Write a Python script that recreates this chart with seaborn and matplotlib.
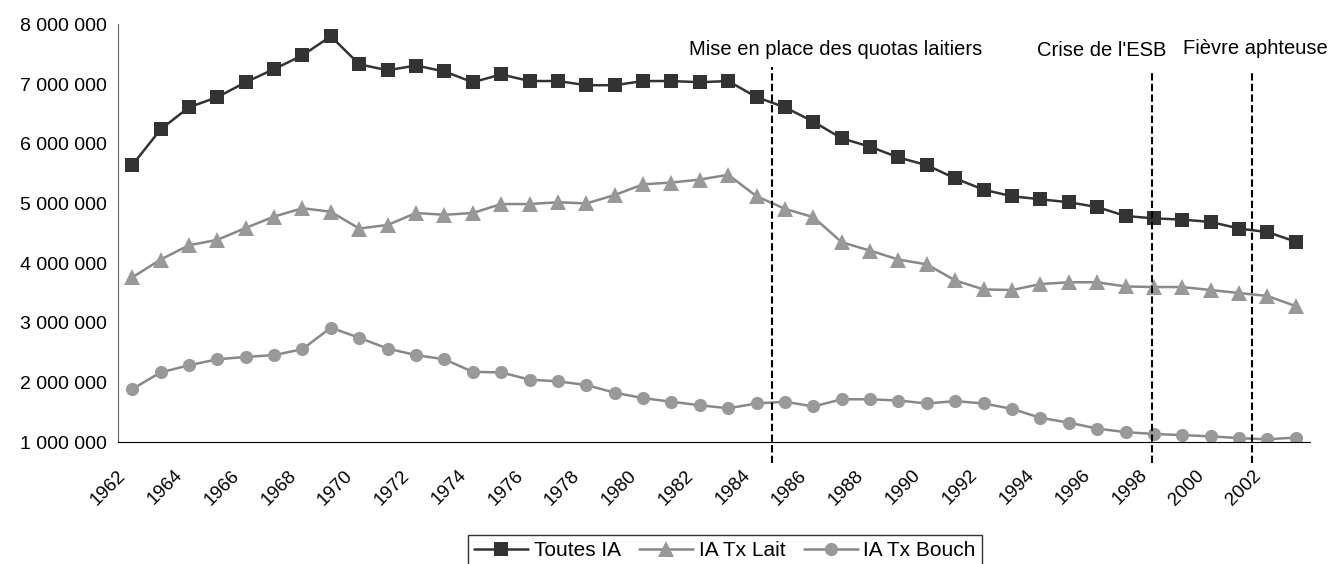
import numpy as np
import pandas as pd
import matplotlib
matplotlib.use("Agg")
import matplotlib.pyplot as plt
import matplotlib.ticker as tck
import matplotlib.transforms as mtrans
import seaborn as sns

# %% data
years = list(range(1962, 2004))
toutes_ia = [5.64, 6.24, 6.61, 6.78, 7.03, 7.25, 7.48, 7.80, 7.33, 7.23, 7.31, 7.21,
             7.03, 7.16, 7.05, 7.05, 6.98, 6.98, 7.05, 7.05, 7.03, 7.05, 6.78, 6.61,
             6.37, 6.09, 5.95, 5.77, 5.64, 5.42, 5.23, 5.12, 5.07, 5.02, 4.94, 4.79,
             4.75, 4.73, 4.69, 4.58, 4.52, 4.36]
ia_lait = [3.76, 4.06, 4.30, 4.39, 4.59, 4.78, 4.92, 4.86, 4.58, 4.64, 4.84, 4.81,
           4.84, 4.99, 4.99, 5.02, 5.00, 5.14, 5.32, 5.35, 5.40, 5.48, 5.12, 4.91,
           4.77, 4.35, 4.21, 4.06, 3.98, 3.71, 3.56, 3.55, 3.65, 3.68, 3.68, 3.61,
           3.60, 3.60, 3.55, 3.50, 3.45, 3.28]
ia_bouch = [1.89, 2.17, 2.29, 2.39, 2.43, 2.46, 2.56, 2.92, 2.75, 2.57, 2.46, 2.39,
            2.18, 2.17, 2.05, 2.02, 1.96, 1.83, 1.74, 1.68, 1.62, 1.57, 1.65, 1.68,
            1.60, 1.72, 1.72, 1.70, 1.65, 1.69, 1.65, 1.56, 1.41, 1.33, 1.23, 1.17,
            1.14, 1.12, 1.10, 1.07, 1.05, 1.08]
series_names = ["Toutes IA", "IA Tx Lait", "IA Tx Bouch"]
events = ["Mise en place des quotas laitiers", "Crise de l'ESB", "Fièvre aphteuse"]
event_x = [1984.54, 1997.95, 2001.46]

df = pd.DataFrame({"year": years * 3,
                   "value": np.array(toutes_ia + ia_lait + ia_bouch) * 1e6,
                   "series": np.repeat(series_names, len(years))})

# %% plot
sns.set_style("white")
plt.rcParams["font.family"] = ["Liberation Sans", "DejaVu Sans"]
plt.rcParams["text.color"] = "black"
plt.rcParams["xtick.color"] = "black"
plt.rcParams["ytick.color"] = "black"

fig = plt.figure(figsize=(13.32, 5.64), dpi=100, facecolor="white")
ax = fig.add_axes([118 / 1332, 1 - 442.3 / 564, (1310 - 118) / 1332, (442.3 - 24.3) / 564])

styles = {"Toutes IA": ("#333333", "#333333", "s", 9.5),
          "IA Tx Lait": ("#888888", "#999999", "^", 11),
          "IA Tx Bouch": ("#888888", "#999999", "o", 9.5)}
for name in series_names:
    lc, mc, mk, ms = styles[name]
    sns.lineplot(data=df[df["series"] == name], x="year", y="value", ax=ax,
                 color=lc, linewidth=1.8, marker=mk, markersize=ms,
                 markerfacecolor=mc, markeredgecolor=mc, markeredgewidth=0,
                 label=name, legend=False)

ax.set_xlim(years[0] - 0.5, years[-1] + 0.5)
ax.set_ylim(1e6, 8e6)
ax.set_xlabel("")
ax.set_ylabel("")

# category boundaries as tick marks, labels at even years
ax.xaxis.set_minor_locator(tck.FixedLocator(np.arange(years[0] - 0.5, years[-1] + 1.0, 1)))
ax.xaxis.set_major_locator(tck.FixedLocator(years[::2]))
ax.set_xticklabels([str(y) for y in years[::2]], rotation=45, ha="right",
                   rotation_mode="anchor", fontsize=13.5)
ax.tick_params(axis="x", which="major", length=0, pad=9)
ax.tick_params(axis="x", which="minor", length=5, width=1, direction="out", color="black")
shift = mtrans.ScaledTranslation(-15 / 100, -12 / 100, fig.dpi_scale_trans)
for lab in ax.get_xticklabels():
    lab.set_transform(lab.get_transform() + shift)
ax.yaxis.set_major_locator(tck.MultipleLocator(1e6))
ax.yaxis.set_major_formatter(tck.FuncFormatter(lambda v, p: f"{int(v):,}".replace(",", " ")))
ax.tick_params(axis="y", length=5, width=1, direction="out", color="black", labelsize=14, pad=3)

for s in ["top", "right"]:
    ax.spines[s].set_visible(False)
ax.spines["left"].set_color("#666666")
ax.spines["bottom"].set_color("black")

# event markers
ax.vlines(event_x[0], 0.66e6, 7.28e6, colors="black", linestyles=(0, (3.5, 1.6)), lw=1.5, clip_on=False)
ax.vlines(event_x[1:], 0.66e6, 7.18e6, colors="black", linestyles=(0, (3.5, 1.6)), lw=1.5, clip_on=False)
ax.text(1986.79, 7.57e6, events[0], ha="center", va="center", fontsize=14.5, clip_on=False)
ax.text(1996.16, 7.56e6, events[1], ha="center", va="center", fontsize=14.5, clip_on=False)
ax.text(2001.59, 7.59e6, events[2], ha="center", va="center", fontsize=14.5, clip_on=False)

handles, labels = ax.get_legend_handles_labels()
leg = ax.legend(handles, labels, ncol=3, loc="upper center", bbox_to_anchor=(725 / 1332, 1 - 535 / 564),
                bbox_transform=fig.transFigure, borderaxespad=0, frameon=True, fancybox=False,
                fontsize=15, handlelength=2.6, handletextpad=0.25, columnspacing=0.9, borderpad=0.3)
leg.get_frame().set_edgecolor("black")
leg.get_frame().set_linewidth(1)

plt.savefig("out.png", dpi=100, facecolor="white")
